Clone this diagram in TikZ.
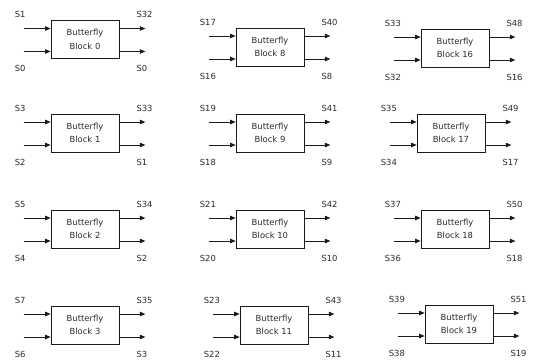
\documentclass[tikz,border=0pt]{standalone}
\usepackage{fontspec}
\setmainfont{DejaVu Sans}
\usetikzlibrary{arrows.meta,calc}
\definecolor{cline}{HTML}{1A1A1A}
\definecolor{ctext}{HTML}{2B2B2B}

\begin{document}
\begin{tikzpicture}[x=1pt, y=-1pt, font=\fontsize{8.4}{13.5}\selectfont,
  bfly/.style={draw=cline, line width=0.7pt, minimum width=68pt,
    minimum height=38pt, align=center, text=ctext, inner sep=0pt},
  arr/.style={-{Triangle[length=5.5pt, width=4.5pt]}, cline, line width=0.7pt},
  sig/.style={anchor=west, text=ctext, inner sep=0pt}]
\useasboundingbox (0,0) rectangle (537,359);

% block centre x / y / number
\foreach \bx/\by/\n [evaluate=\n as \ia using int(2*\n+1),
                     evaluate=\n as \ib using int(2*\n),
                     evaluate=\n as \oa using int(\n+32)]
  in {85/39.5/0, 85/133/1, 85/229/2, 85/325/3,
      270/47/8, 270/133/9, 270/229/10, 274/325/11,
      455/48/16, 451/133/17, 455/229/18, 459/324/19}{
  \node[bfly] (b\n) at (\bx,\by) {Butterfly\\Block \n};

  % free ends of the signal arrows
  \coordinate (b\n-it) at ($(b\n.west)+(-27,-11)$);
  \coordinate (b\n-ib) at ($(b\n.west)+(-27,12)$);
  \coordinate (b\n-ot) at ($(b\n.east)+(26,-11)$);
  \coordinate (b\n-ob) at ($(b\n.east)+(26,12)$);

  \draw[arr] (b\n-it) -- (b\n-it -| b\n.west);
  \draw[arr] (b\n-ib) -- (b\n-ib -| b\n.west);
  \draw[arr] (b\n-ot -| b\n.east) -- (b\n-ot);
  \draw[arr] (b\n-ob -| b\n.east) -- (b\n-ob);

  \node[sig] (b\n-lit) at ($(b\n.west)+(-36,-25)$) {S\ia};
  \node[sig] (b\n-lib) at ($(b\n.west)+(-36,29)$) {S\ib};
  \node[sig] (b\n-lot) at ($(b\n.east)+(17,-25)$) {S\oa};
  \node[sig] (b\n-lob) at ($(b\n.east)+(17,29)$) {S\n};
}
\end{tikzpicture}
\end{document}
